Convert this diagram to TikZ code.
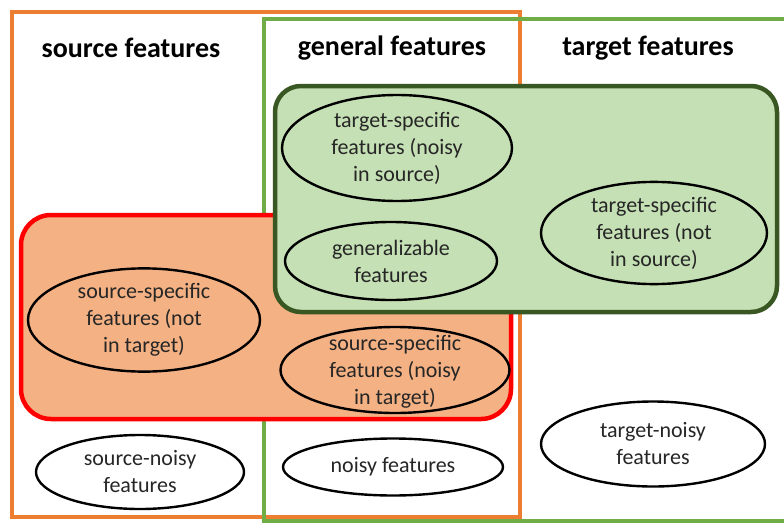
\documentclass[tikz,border=0pt]{standalone}
\usepackage{fontspec}
\setmainfont{Carlito}
\usetikzlibrary{shapes.geometric}
\definecolor{srcline}{HTML}{ED7D31}
\definecolor{tgtline}{HTML}{70AD47}
\definecolor{darkgreen}{HTML}{385723}
\definecolor{greenfill}{HTML}{C5E0B4}
\definecolor{redline}{HTML}{FF0000}
\definecolor{orangefill}{HTML}{F4B183}
\definecolor{bodytext}{HTML}{262626}
\tikzset{
  title/.style={font=\fontsize{28}{32}\selectfont\bfseries, text=black},
  feat/.style={ellipse, draw=black, line width=2.4pt, inner sep=0pt,
    align=center, text=bodytext, font=\fontsize{22}{27}\selectfont},
  region/.style={line width=4.5pt}
}
\begin{document}
\begin{tikzpicture}[x=1pt,y=-1pt]
\useasboundingbox (0,0) rectangle (784,527);
\fill[white] (0,0) rectangle (784,527);

% source and target feature spaces
\draw[region, srcline] (12,12) rectangle (520,517);
\draw[region, tgtline, line width=4pt] (264,19.5) rectangle (795,521);

% shared-region boxes
\draw[region, redline, fill=orangefill, rounded corners=30pt] (21,215) rectangle (511,419);
\draw[region, darkgreen, fill=greenfill, rounded corners=26pt] (275,86) rectangle (777,312);

% headings
\node[title] (tsrc) at (131,48) {source features};
\node[title] (tgen) at (392,48) {general features};
\node[title] (ttgt) at (648,48) {target features};

% feature groups
\node[feat, minimum width=230pt, minimum height=106pt] (tsnoisy) at (397,148)
  {target-specific\\features (noisy\\in source)};
\node[feat, minimum width=212pt, minimum height=78pt] (gen) at (391,261)
  {generalizable\\features};
\node[feat, minimum width=226pt, minimum height=100pt] (tsnot) at (654,233)
  {target-specific\\features (not\\in source)};
\node[feat, minimum width=232pt, minimum height=94pt] (ssnot) at (144,320)
  {source-specific\\features (not\\in target)};
\node[feat, minimum width=229pt, minimum height=86pt] (ssnoisy) at (395,370) {};
\node[align=center, text=bodytext, font=\fontsize{22}{27}\selectfont] (ssnoisytxt) at (395,372)
  {source-specific\\features (noisy\\in target)};
\node[feat, minimum width=208pt, minimum height=74pt] (srcnoise) at (140,472)
  {source-noisy\\features};
\node[feat, minimum width=220pt, minimum height=57pt] (noise) at (393,467)
  {noisy features};
\node[feat, minimum width=224pt, minimum height=85pt] (tgtnoise) at (653,444)
  {target-noisy\\features};
\end{tikzpicture}
\end{document}
